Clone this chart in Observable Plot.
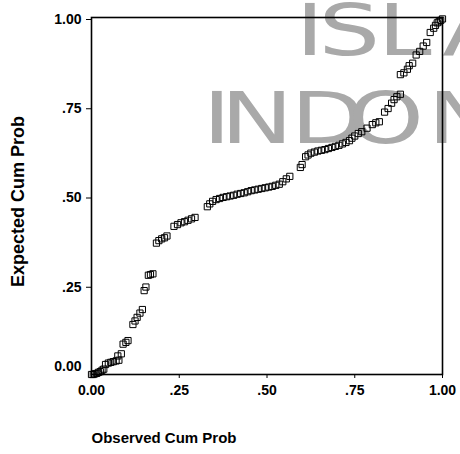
<!DOCTYPE html>
<html>
<head>
<meta charset="utf-8">
<script src="https://cdn.jsdelivr.net/npm/d3@7"></script>
<script src="https://cdn.jsdelivr.net/npm/@observablehq/plot@0.6"></script>
<style>
  html, body { margin: 0; padding: 0; background: white; }
  #wrap { position: relative; width: 460px; height: 454px; overflow: hidden; }
  #wm { position: absolute; left: 0; top: 0; }
  #chart { position: absolute; left: 0; top: 0; }
</style>
</head>
<body>
<div id="wrap">
  <svg id="wm" width="460" height="454"></svg>
  <div id="chart"></div>
</div>
<script>
// Observed cumulative probability (x) and expected cumulative probability (y)
const observed = [
  0.000,0.005,0.010,0.015,0.020,0.025,0.030,0.035,
  0.040,0.048,0.055,0.062,0.070,0.078,0.075,0.085,
  0.090,0.098,0.104,0.118,0.124,0.130,0.138,0.145,
  0.150,0.155,0.162,0.168,0.175,
  0.185,0.192,0.200,0.208,0.215,
  0.235,0.245,0.255,0.265,0.275,0.285,0.295,
  0.330,0.337,0.345,0.355,0.365,0.375,0.385,0.395,0.405,0.415,0.425,0.435,0.445,0.455,
  0.465,0.475,0.485,0.495,0.505,0.515,0.525,0.535,0.545,0.555,0.565,
  0.595,0.600,
  0.610,0.617,0.625,0.635,0.645,0.655,0.665,0.675,0.685,0.695,0.705,0.715,0.725,0.735,0.742,0.750,
  0.760,0.770,0.785,0.800,0.810,0.820,
  0.835,0.845,0.855,0.862,0.870,0.880,
  0.880,0.890,0.900,0.905,0.915,0.925,0.935,0.945,0.955,
  0.965,0.975,0.980,0.985,0.990,0.995,1.000
];
const expected = [
  0.000,0.000,0.002,0.003,0.006,0.008,0.012,0.015,
  0.028,0.032,0.034,0.036,0.038,0.040,0.052,0.058,
  0.085,0.090,0.095,0.140,0.150,0.160,0.172,0.182,
  0.235,0.245,0.278,0.280,0.282,
  0.368,0.375,0.380,0.383,0.388,
  0.415,0.420,0.425,0.428,0.432,0.436,0.440,
  0.470,0.478,0.485,0.490,0.493,0.496,0.498,0.500,0.502,0.505,0.507,0.509,0.512,0.515,
  0.517,0.519,0.521,0.523,0.525,0.527,0.530,0.533,0.540,0.548,0.555,
  0.580,0.588,
  0.610,0.615,0.620,0.623,0.626,0.628,0.630,0.633,0.636,0.639,0.642,0.646,0.650,0.655,0.662,0.668,
  0.675,0.680,0.690,0.700,0.705,0.708,
  0.735,0.745,0.760,0.770,0.778,0.785,
  0.840,0.845,0.855,0.865,0.872,0.895,0.905,0.920,0.930,
  0.958,0.970,0.978,0.985,0.988,0.992,0.996
];
const tickValues = [0, 0.25, 0.5, 0.75, 1];
const tickLabels = ["0.00", ".25", ".50", ".75", "1.00"];
const xTitle = "Observed Cum Prob";
const yTitle = "Expected Cum Prob";
// Watermark text (partially visible in the reference)
const watermarkLines = ["ISLA", "INDON"];

// ---- watermark (background, behind the chart) ----
(function drawWatermark() {
  const svg = d3.select("#wm");
  const s = 1.35, fs = 72;
  const lsb = {I: 0.098, N: 0.098, D: 0.098, L: 0.098, S: 0.066, O: 0.056, A: 0.008};
  const layout = [
    {line: 0, baseline: 55, inkLeft: [305, 325, 387, 443]},
    {line: 1, baseline: 143, inkLeft: [212, 230, 300, 353, 437]}
  ];
  layout.forEach(l => {
    const word = watermarkLines[l.line];
    const xs = [...word].map((ch, i) => ((l.inkLeft[i] - (lsb[ch] || 0.08) * fs * s) / s).toFixed(1));
    svg.append("text")
      .attr("transform", `scale(${s},1)`)
      .attr("x", xs.join(" "))
      .attr("y", l.baseline)
      .attr("font-family", "'DejaVu Sans', sans-serif")
      .attr("font-size", fs)
      .attr("fill", "#a9a9a9")
      .text(word);
  });
})();

const data = observed.map((o, i) => ({obs: o, exp: expected[i]}));
const fmt = d => tickLabels[tickValues.indexOf(d)];

const chart = Plot.plot({
  width: 460,
  height: 454,
  marginLeft: 91,
  marginRight: 18,
  marginTop: 17,
  marginBottom: 80,
  x: {domain: [0, 1]},
  y: {domain: [0, 1]},
  style: {
    fontFamily: "'Liberation Sans', Arial, sans-serif",
    fontSize: "14px",
    fontWeight: "bold",
    background: "transparent",
    color: "black"
  },
  marks: [
    Plot.dot(data, {x: "obs", y: "exp", symbol: "square", r: 3.5, stroke: "black", strokeWidth: 1, fill: "none"}),
    Plot.frame({stroke: "black", strokeWidth: 1.6}),
    Plot.axisX({ticks: tickValues, tickFormat: fmt, tickSize: 4, tickPadding: 7, label: null, fontSize: 14}),
    Plot.axisY({ticks: tickValues.slice(1), tickFormat: fmt, tickSize: 5, tickPadding: 5, dy: 2, label: null, fontSize: 14}),
    Plot.axisY({ticks: [0], tickFormat: fmt, tickSize: 0, tickPadding: 10, dy: -8, label: null, fontSize: 14}),
    Plot.text([xTitle], {text: d => d, frameAnchor: "bottom-left", textAnchor: "start", dy: 68, fontSize: 15, fontWeight: "bold"}),
    Plot.text([yTitle], {text: d => d, frameAnchor: "left", rotate: -90, dx: -73, dy: 91, fontSize: 18, fontWeight: "bold"})
  ]
});
document.getElementById("chart").appendChild(chart);
</script>
</body>
</html>
